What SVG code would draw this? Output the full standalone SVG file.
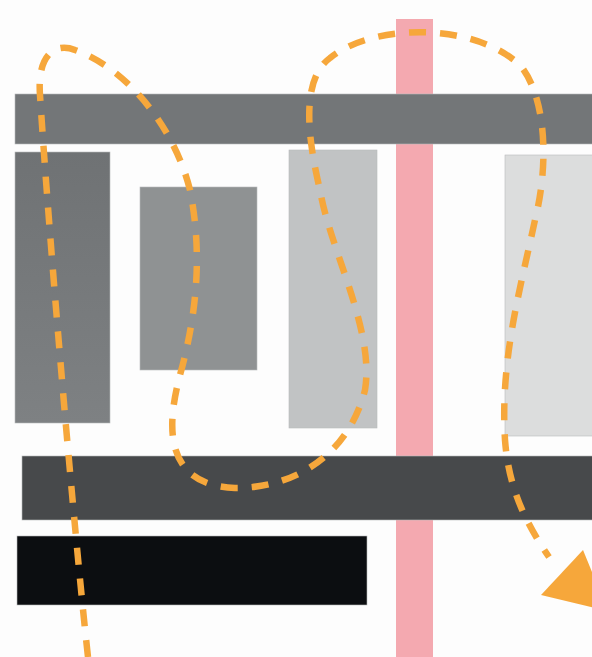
<svg xmlns="http://www.w3.org/2000/svg" width="592" height="657" viewBox="0 0 592 657">
<style>
.blk{stroke:#b9bbbd;stroke-width:0.6}
.route{fill:none;stroke:#f6a73b;stroke-width:6.5;stroke-dasharray:17 14}
.head{fill:#f6a73b}
</style>
<defs>
<linearGradient id="g1" x1="0" y1="0" x2="0" y2="1"><stop offset="0" stop-color="#6f7274"/><stop offset="1" stop-color="#7e8183"/></linearGradient>
</defs>
<rect x="0" y="0" width="592" height="657" fill="#fdfdfd"/>
<g id="pink-strip"><rect x="396" y="19" width="37" height="638" fill="#f4a9b0"/></g>
<g id="top-bar"><rect class="blk" x="15" y="94" width="580" height="50" fill="#737678"/></g>
<g id="block-1"><rect class="blk" x="15" y="152" width="95" height="271" fill="url(#g1)"/></g>
<g id="block-2"><rect class="blk" x="140" y="187" width="117" height="183" fill="#8f9293"/></g>
<g id="block-3"><rect class="blk" x="289" y="150" width="88" height="278" fill="#c1c3c4"/></g>
<g id="block-4"><rect class="blk" x="505" y="155" width="90" height="281" fill="#dcdddd"/></g>
<g id="mid-bar"><rect class="blk" x="22" y="456" width="573" height="64" fill="#47494b"/></g>
<g id="black-bar"><rect class="blk" x="17" y="536" width="350" height="69" fill="#0c0e11"/></g>
<g id="connectors">
<path class="route" d="M88,657 C75,540 50,250 40,95 C37,55 55,42 75,50 C130,70 175,130 190,190 C202,250 198,310 180,375 C168,420 160,485 235,488 C300,488 350,450 365,390 C375,330 330,250 320,190 C308,140 300,80 330,58 C370,25 470,20 520,65 C545,95 550,160 535,220 C520,290 500,360 505,440 C508,480 520,515 549,557"/>
<polygon class="head" points="583,550 541,595 608,611"/>
</g>
</svg>
